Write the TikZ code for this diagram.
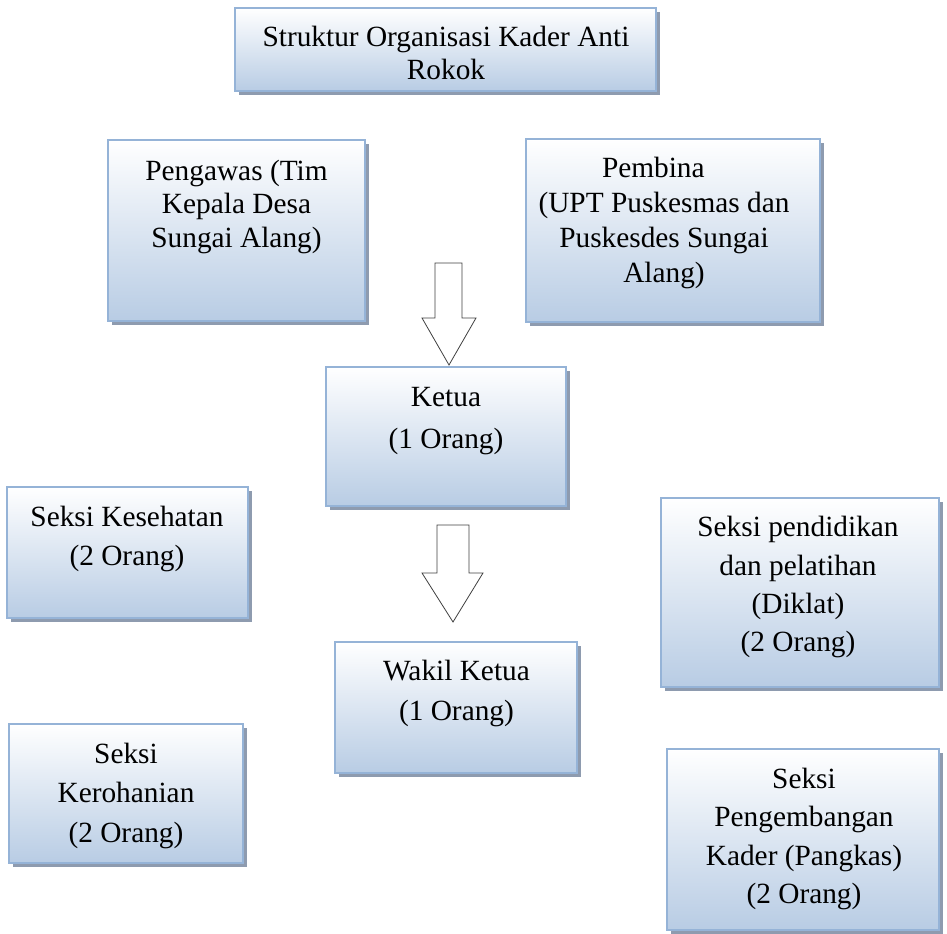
\documentclass[tikz,border=0pt]{standalone}
\usepackage{fontspec}
\setmainfont{Liberation Serif}
\usetikzlibrary{fit,shadows}
\definecolor{boxblue}{HTML}{B8CCE4}
\definecolor{boxborder}{HTML}{95B3D7}
\definecolor{shadowc}{HTML}{8E9BAF}
\definecolor{arrowline}{HTML}{404040}
\tikzset{
  orgbox/.style={draw=boxborder, line width=1.5pt, top color=white, bottom color=boxblue,
    inner sep=0pt, drop shadow={shadow xshift=3pt, shadow yshift=-3pt, fill=shadowc, opacity=1}},
  txt/.style={font=\fontsize{22}{#1}\selectfont, align=center, inner sep=0pt, anchor=north, text=black},
  blockarrow/.style={draw=arrowline, line width=0.6pt, fill=white, line join=miter}
}
\begin{document}
\begin{tikzpicture}[x=0.75pt,y=-0.75pt]
\useasboundingbox (0,0) rectangle (947,934);
% boxes
\node[orgbox, fit={(235,8) (656,91)}] (title) {};
\node[orgbox, fit={(108,140) (365,321)}] (pengawas) {};
\node[orgbox, fit={(526,139) (820,322)}] (pembina) {};
\node[orgbox, fit={(326,367) (566,506)}] (ketua) {};
\node[orgbox, fit={(7,487) (248,618)}] (kesehatan) {};
\node[orgbox, fit={(661,498) (939,687)}] (diklat) {};
\node[orgbox, fit={(335,642) (577,773)}] (wakil) {};
\node[orgbox, fit={(9,724) (243,863)}] (kerohanian) {};
\node[orgbox, fit={(667,749) (939,930)}] (pangkas) {};
% texts
\node[txt=24.75pt] (titleT) at (446,22.9) {\strut Struktur Organisasi Kader Anti\\\strut Rokok};
\node[txt=25.1pt] (pengawasT) at (236.5,156.5) {\strut Pengawas (Tim\\\strut Kepala Desa\\\strut Sungai Alang)};
\node[txt=26.25pt] (pembinaT) at (664,152.5) {\strut Pembina\kern 16pt\\\strut(UPT Puskesmas dan\\\strut Puskesdes Sungai\\\strut Alang)};
\node[txt=31.1pt] (ketuaT) at (446,377.6) {\strut Ketua\\\strut(1 Orang)};
\node[txt=28.9pt] (kesehatanT) at (127,499.7) {\strut Seksi Kesehatan\\\strut(2 Orang)};
\node[txt=28.7pt] (diklatT) at (798,509.9) {\strut Seksi pendidikan\\\strut dan pelatihan\\\strut(Diklat)\\\strut(2 Orang)};
\node[txt=30pt] (wakilT) at (456.5,652) {\strut Wakil Ketua\\\strut(1 Orang)};
\node[txt=29.4pt] (kerohanianT) at (126,735.9) {\strut Seksi\\\strut Kerohanian\\\strut(2 Orang)};
\node[txt=28.7pt] (pangkasT) at (804,761.5) {\strut Seksi\\\strut Pengembangan\\\strut Kader (Pangkas)\\\strut(2 Orang)};
% block arrows
\draw[blockarrow] (435,263) -- (462,263) -- (462,318) -- (476,318) -- (449,365)
  -- (422,318) -- (435,318) -- cycle;
\draw[blockarrow] (437,525) -- (469,525) -- (469,573) -- (483,573) -- (453,622)
  -- (422,573) -- (437,573) -- cycle;
\end{tikzpicture}
\end{document}
